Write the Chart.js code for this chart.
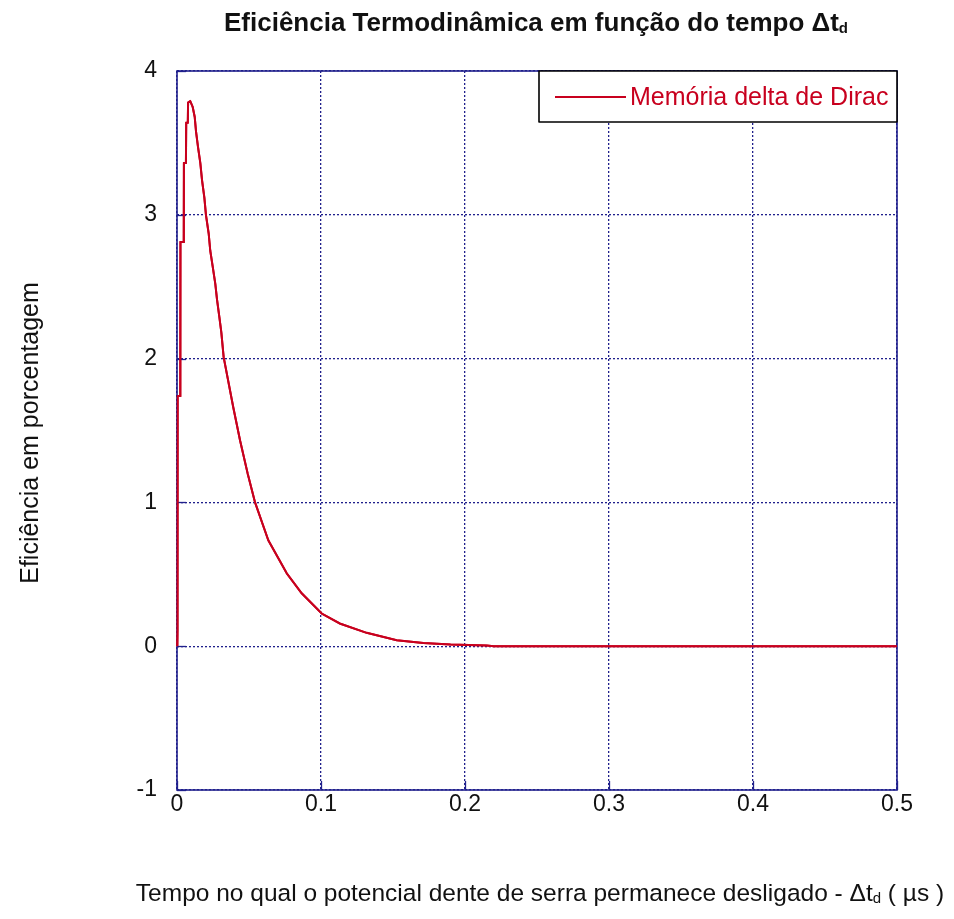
<!DOCTYPE html>
<html>
<head>
<meta charset="utf-8">
<script src="https://cdn.jsdelivr.net/npm/chart.js@4"></script>
<style>
html,body{margin:0;padding:0;background:#fff;}
#wrap{width:954px;height:919px;}
</style>
</head>
<body>
<div id="wrap"><canvas id="c" width="954" height="919"></canvas></div>
<script>
// ---- data ----
const timeValues = [0, 0.0003, 0.0005, 0.0022, 0.0024, 0.0046, 0.0048, 0.0062, 0.0064, 0.0075, 0.0077, 0.0092, 0.0109, 0.0123, 0.0132, 0.0146, 0.0162, 0.0174, 0.0190, 0.0201, 0.0220, 0.0231, 0.0248, 0.0266, 0.0278, 0.0294, 0.0308, 0.0324, 0.0391, 0.0438, 0.0491, 0.0542, 0.0634, 0.0762, 0.0866, 0.1005, 0.113, 0.1317, 0.1526, 0.171, 0.19, 0.215, 0.22, 0.5];
const efficiencyValues = [0, 0.11, 1.74, 1.74, 2.81, 2.81, 3.36, 3.36, 3.64, 3.64, 3.78, 3.79, 3.75, 3.68, 3.58, 3.47, 3.36, 3.24, 3.12, 3.00, 2.87, 2.75, 2.64, 2.52, 2.41, 2.29, 2.18, 2.01, 1.66, 1.43, 1.20, 1.00, 0.737, 0.507, 0.368, 0.227, 0.158, 0.093, 0.042, 0.023, 0.012, 0.005, 0, 0];
const seriesLabel = 'Memória delta de Dirac';
const xTicks = [0, 0.1, 0.2, 0.3, 0.4, 0.5];
const yTicks = [-1, 0, 1, 2, 3, 4];
const titleMain = 'Eficiência Termodinâmica em função do tempo Δt';
const titleSub = 'd';
const xTitleMain = 'Tempo no qual o potencial dente de serra permanece desligado - Δt';
const xTitleSub = 'd';
const xTitleEnd = ' ( µs )';
const yTitle = 'Eficiência em porcentagem';

const points = timeValues.map((t, i) => ({x: t, y: efficiencyValues[i]}));
const AXIS = '#20208c';
const LINE = '#c8001e';
const FONT = '"Liberation Sans", Arial, sans-serif';

function drawSubText(ctx, parts, cx, cy, font, subFont) {
  let w = 0;
  parts.forEach(p => { ctx.font = p.sub ? subFont : font; w += ctx.measureText(p.t).width; });
  let x = cx - w / 2;
  ctx.textBaseline = 'alphabetic';
  ctx.textAlign = 'left';
  parts.forEach(p => {
    ctx.font = p.sub ? subFont : font;
    ctx.fillText(p.t, x, cy + (p.sub ? 2 : 0));
    x += ctx.measureText(p.t).width;
  });
}

const decor = {
  id: 'decor',
  afterDraw(chart) {
    const ctx = chart.ctx;
    const a = chart.chartArea;
    const xs = chart.scales.x, ys = chart.scales.y;
    ctx.save();
    // inner tick marks
    ctx.strokeStyle = AXIS; ctx.lineWidth = 1.3; ctx.setLineDash([]);
    xTicks.forEach(v => {
      const px = Math.round(xs.getPixelForValue(v)) + 0.5;
      ctx.beginPath(); ctx.moveTo(px, a.bottom); ctx.lineTo(px, a.bottom - 9); ctx.stroke();
    });
    yTicks.forEach(v => {
      const py = Math.round(ys.getPixelForValue(v)) + 0.5;
      ctx.beginPath(); ctx.moveTo(a.left, py); ctx.lineTo(a.left + 9, py); ctx.stroke();
    });
    // frame
    ctx.lineWidth = 1.6;
    ctx.strokeRect(a.left, a.top, a.right - a.left, a.bottom - a.top);
    // data line on top of the frame
    const meta = chart.getDatasetMeta(0);
    ctx.strokeStyle = LINE; ctx.lineWidth = 2; ctx.lineJoin = 'round';
    ctx.beginPath();
    meta.data.forEach((pt, i) => { if (i === 0) ctx.moveTo(pt.x, pt.y); else ctx.lineTo(pt.x, pt.y); });
    ctx.stroke();
    // legend
    const lx = 539, ly = a.top, lw = a.right - 539, lh = 51;
    ctx.fillStyle = '#fff';
    ctx.fillRect(lx, ly, lw, lh);
    ctx.strokeStyle = '#000'; ctx.lineWidth = 1.6;
    ctx.strokeRect(lx, ly, lw, lh);
    ctx.strokeStyle = LINE; ctx.lineWidth = 2;
    ctx.beginPath(); ctx.moveTo(555, ly + 26); ctx.lineTo(626, ly + 26); ctx.stroke();
    ctx.fillStyle = LINE; ctx.font = '25px ' + FONT; ctx.textAlign = 'left'; ctx.textBaseline = 'middle';
    ctx.fillText(seriesLabel, 630, ly + 27);
    // title
    ctx.fillStyle = '#111';
    drawSubText(ctx, [{t: titleMain}, {t: titleSub, sub: true}], 536, 31, 'bold 26px ' + FONT, 'bold 15px ' + FONT);
    // x title
    drawSubText(ctx, [{t: xTitleMain}, {t: xTitleSub, sub: true}, {t: xTitleEnd}], 540, 901, '24.5px ' + FONT, '15px ' + FONT);
    // y title
    ctx.save();
    ctx.translate(31, 433); ctx.rotate(-Math.PI / 2);
    ctx.font = '25px ' + FONT; ctx.textAlign = 'center'; ctx.textBaseline = 'middle';
    ctx.fillText(yTitle, 0, 0);
    ctx.restore();
    ctx.restore();
  }
};

new Chart(document.getElementById('c'), {
  type: 'line',
  data: {
    datasets: [{
      label: seriesLabel,
      data: points,
      borderColor: LINE,
      borderWidth: 2,
      pointRadius: 0,
      tension: 0,
      fill: false
    }]
  },
  options: {
    responsive: false,
    animation: false,
    layout: {padding: {left: 0, right: 57, top: 71, bottom: 0}},
    plugins: {legend: {display: false}, title: {display: false}, tooltip: {enabled: false}},
    scales: {
      x: {
        type: 'linear', min: 0, max: 0.5,
        afterBuildTicks: s => { s.ticks = xTicks.map(v => ({value: v})); },
        afterFit: s => { s.height = 129; },
        ticks: {color: '#111', font: {size: 23, family: FONT}, padding: 1, maxRotation: 0,
                callback: v => String(v)},
        grid: {color: AXIS, lineWidth: 1.3, drawTicks: false},
        border: {display: false, dash: [2, 2]}
      },
      y: {
        min: -1, max: 4,
        afterBuildTicks: s => { s.ticks = yTicks.map(v => ({value: v})); },
        afterFit: s => { s.width = 177; },
        ticks: {color: '#111', font: {size: 23, family: FONT}, padding: 20,
                callback: v => String(v)},
        grid: {color: AXIS, lineWidth: 1.3, drawTicks: false},
        border: {display: false, dash: [2, 2]}
      }
    }
  },
  plugins: [decor]
});
</script>
</body>
</html>
